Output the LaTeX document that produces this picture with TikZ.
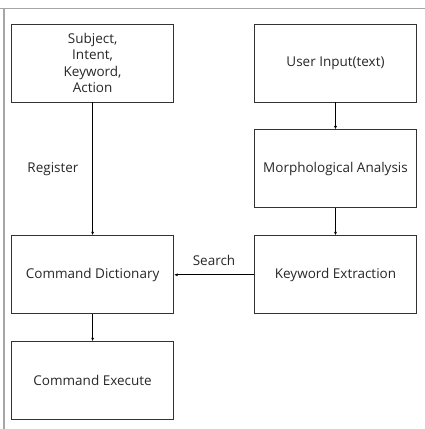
\documentclass[tikz,border=0pt]{standalone}
\usepackage{fontspec}
\setmainfont{Open Sans}
\usepackage{tikz}
\usetikzlibrary{arrows.meta,positioning}

\begin{document}
\begin{tikzpicture}[x=1pt,y=-1pt,-{Latex[length=3.5pt,width=3pt]},auto,
  node distance=27pt and 80pt,
  box node/.style={rectangle,draw=black!80,line width=0.9pt,minimum width=162pt,
    minimum height=78pt,align=center,inner sep=2pt,text=black!85,
    font=\fontsize{13.5}{16.5}\selectfont},
  label node/.style={text=black!85,font=\fontsize{13.5}{16.5}\selectfont}]
  \useasboundingbox (0,0) rectangle (425,429);
  % window frame
  \draw[-,black!35,line width=1.6pt] (0,8.5) -- (425,8.5) (4,8.5) -- (4,429);

  \node[box node] (ui) at (335.5,63) {User Input(text)};
  \node[box node] (ma) [below=of ui] {Morphological Analysis};
  \node[box node] (kw) [below=of ma] {Keyword Extraction};
  \node[box node] (cd) [left=of kw] {Command Dictionary};
  \node[box node] (ce) [below=of cd] {Command Execute};
  \node[box node] (sk) [left=of ui] {Subject,\\Intent,\\Keyword,\\Action};

  \path[line width=0.8pt]
    (ui) edge (ma)
    (ma) edge (kw)
    (sk) edge (cd)
    (cd) edge (ce)
    (kw) edge node[swap,label node,inner sep=9pt] {Search} (cd);

  \node[label node] (reg) at (53,169) {Register};
\end{tikzpicture}
\end{document}
